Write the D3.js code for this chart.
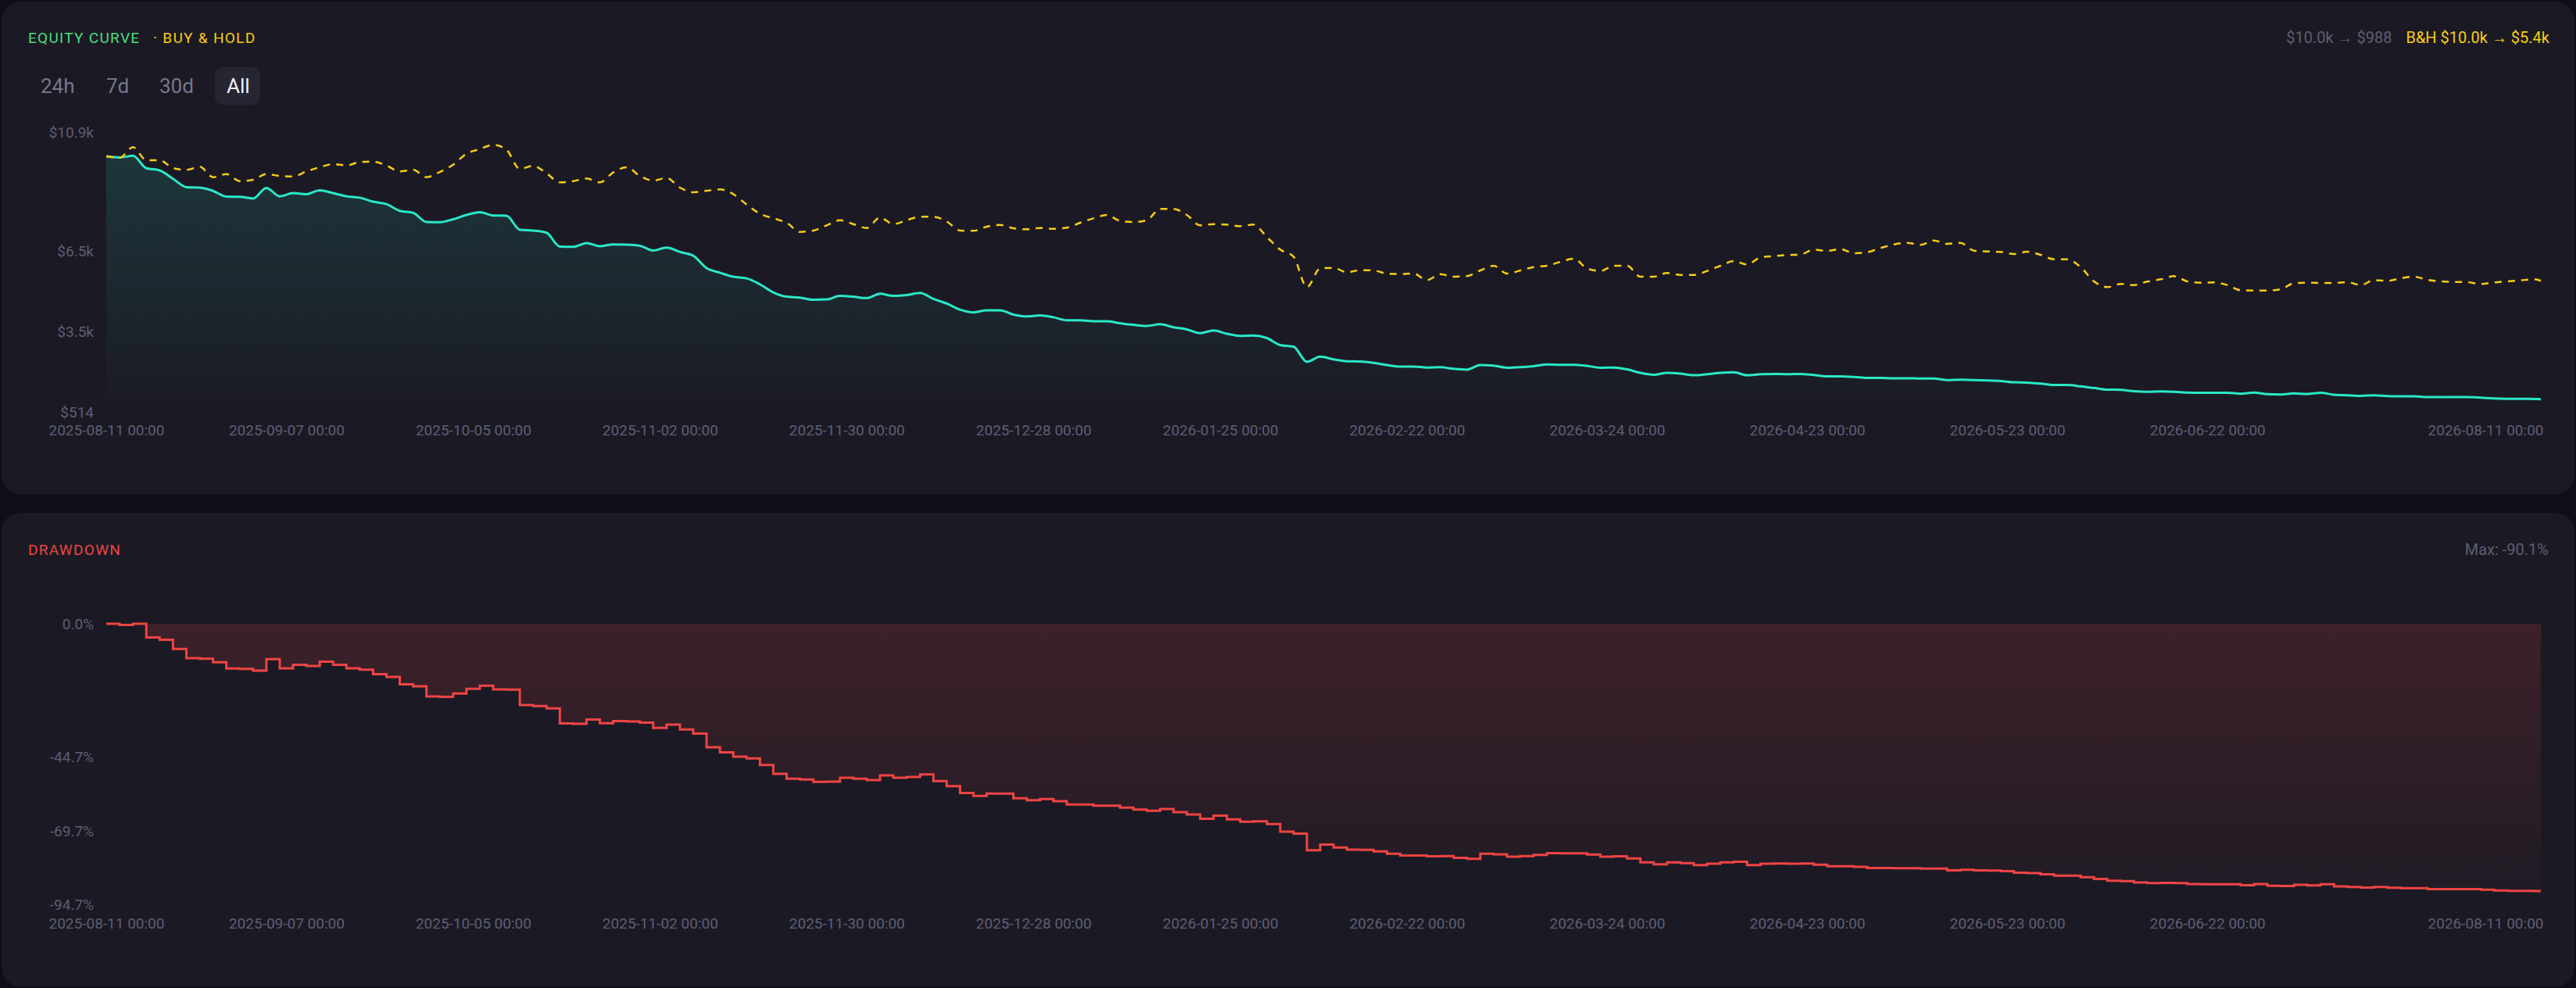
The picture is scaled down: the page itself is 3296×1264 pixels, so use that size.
<!DOCTYPE html>
<html>
<head>
<meta charset="utf-8">
<script src="https://cdn.jsdelivr.net/npm/d3@7"></script>
<style>
  html, body { margin: 0; padding: 0; background: #0f0e17; }
  svg { display: block; font-family: Roboto, "Liberation Sans", sans-serif; }
</style>
</head>
<body>
<script>
// datas (um ponto a cada 2 dias + ultimo dia)
var startDay = "2025-08-11";
var endDay = "2026-08-11";

var equity = [
  10000, 9960, 10020, 9559, 9479, 9168, 8858, 8838, 8717, 8507,
  8497, 8437, 8828, 8517, 8637, 8597, 8737, 8637, 8517, 8467,
  8317, 8226, 7976, 7906, 7565, 7555, 7665, 7826, 7926, 7806,
  7796, 7275, 7244, 7164, 6653, 6643, 6784, 6663, 6733, 6723,
  6683, 6503, 6613, 6453, 6313, 5852, 5681, 5531, 5471, 5250,
  4950, 4790, 4759, 4679, 4689, 4820, 4790, 4739, 4900, 4820,
  4850, 4930, 4709, 4539, 4309, 4208, 4289, 4289, 4128, 4058,
  4098, 4028, 3918, 3918, 3878, 3878, 3808, 3747, 3707, 3768,
  3657, 3577, 3437, 3537, 3417, 3337, 3347, 3256, 2996, 2936,
  2375, 2565, 2465, 2395, 2385, 2335, 2254, 2194, 2194, 2164,
  2174, 2114, 2084, 2254, 2234, 2154, 2174, 2214, 2275, 2265,
  2265, 2224, 2154, 2164, 2094, 1964, 1894, 1964, 1934, 1874,
  1914, 1964, 1984, 1874, 1914, 1924, 1914, 1924, 1884, 1834,
  1834, 1814, 1774, 1774, 1764, 1764, 1753, 1753, 1693, 1713,
  1693, 1683, 1663, 1613, 1603, 1563, 1513, 1513, 1463, 1403,
  1343, 1333, 1283, 1263, 1273, 1263, 1232, 1222, 1222, 1222,
  1192, 1232, 1172, 1162, 1202, 1182, 1222, 1152, 1132, 1112,
  1132, 1102, 1092, 1092, 1062, 1062, 1062, 1062, 1042, 1012,
  1002, 1002, 992, 988
];

var buyHold = [
  10000, 9952, 10339, 9856, 9856, 9566, 9498, 9614, 9227, 9343,
  9082, 9130, 9343, 9275, 9256, 9440, 9594, 9710, 9662, 9788,
  9807, 9662, 9440, 9498, 9227, 9420, 9691, 10097, 10271, 10426,
  10242, 9537, 9643, 9372, 9034, 9082, 9179, 9034, 9401, 9594,
  9275, 9101, 9198, 8840, 8666, 8724, 8773, 8599, 8212, 7873,
  7699, 7535, 7196, 7245, 7438, 7632, 7486, 7341, 7728, 7486,
  7632, 7757, 7757, 7583, 7245, 7235, 7390, 7457, 7332, 7293,
  7341, 7312, 7351, 7535, 7699, 7825, 7602, 7564, 7631, 8047,
  8047, 7825, 7438, 7486, 7467, 7409, 7467, 7003, 6539, 6278,
  5146, 5843, 5862, 5697, 5775, 5765, 5649, 5630, 5649, 5407,
  5630, 5533, 5553, 5765, 5939, 5649, 5765, 5891, 5939, 6084,
  6200, 5843, 5746, 5939, 5939, 5533, 5533, 5669, 5601, 5601,
  5746, 5939, 6110, 5988, 6249, 6297, 6336, 6355, 6539, 6490,
  6558, 6403, 6442, 6597, 6732, 6790, 6713, 6877, 6752, 6790,
  6500, 6471, 6452, 6374, 6461, 6345, 6181, 6181, 5891, 5359,
  5146, 5262, 5224, 5349, 5436, 5552, 5359, 5311, 5320, 5224,
  5030, 5021, 5021, 5069, 5291, 5311, 5301, 5301, 5330, 5224,
  5407, 5378, 5475, 5533, 5417, 5359, 5340, 5330, 5262, 5320,
  5359, 5398, 5436, 5380
];

var drawdown = [
  0, -0.4, 0, -4.6, -5.4, -8.5, -11.6, -11.8, -13.0, -15.1,
  -15.2, -15.8, -11.9, -15.0, -13.8, -14.2, -12.8, -13.8, -15.0, -15.5,
  -17.0, -17.9, -20.4, -21.1, -24.5, -24.6, -23.5, -21.9, -20.9, -22.1,
  -22.2, -27.4, -27.7, -28.5, -33.6, -33.7, -32.3, -33.5, -32.8, -32.9,
  -33.3, -35.1, -34.0, -35.6, -37.0, -41.6, -43.3, -44.8, -45.4, -47.6,
  -50.6, -52.2, -52.5, -53.3, -53.2, -51.9, -52.2, -52.7, -51.1, -51.9,
  -51.6, -50.8, -53.0, -54.7, -57.0, -58.0, -57.2, -57.2, -58.8, -59.5,
  -59.1, -59.8, -60.9, -60.9, -61.3, -61.3, -62.0, -62.6, -63.0, -62.4,
  -63.5, -64.3, -65.7, -64.7, -65.9, -66.7, -66.6, -67.5, -70.1, -70.7,
  -76.3, -74.4, -75.4, -76.1, -76.2, -76.7, -77.5, -78.1, -78.1, -78.4,
  -78.3, -78.9, -79.2, -77.5, -77.7, -78.5, -78.3, -77.9, -77.3, -77.4,
  -77.4, -77.8, -78.5, -78.4, -79.1, -80.4, -81.1, -80.4, -80.7, -81.3,
  -80.9, -80.4, -80.2, -81.3, -80.9, -80.8, -80.9, -80.8, -81.2, -81.7,
  -81.7, -81.9, -82.3, -82.3, -82.4, -82.4, -82.5, -82.5, -83.1, -82.9,
  -83.1, -83.2, -83.4, -83.9, -84.0, -84.4, -84.9, -84.9, -85.4, -86.0,
  -86.6, -86.7, -87.2, -87.4, -87.3, -87.4, -87.7, -87.8, -87.8, -87.8,
  -88.1, -87.7, -88.3, -88.4, -88.0, -88.2, -87.8, -88.5, -88.7, -88.9,
  -88.7, -89.0, -89.1, -89.1, -89.4, -89.4, -89.4, -89.4, -89.6, -89.9,
  -90.0, -90.0, -90.1, -90.1
];

var xTicks = ["2025-08-11", "2025-09-07", "2025-10-05", "2025-11-02", "2025-11-30",
  "2025-12-28", "2026-01-25", "2026-02-22", "2026-03-24", "2026-04-23",
  "2026-05-23", "2026-06-22", "2026-08-11"];
var equityTicks = [10900, 6500, 3500, 514];
var ddTicks = [0, -44.7, -69.7, -94.7];
var ranges = ["24h", "7d", "30d", "All"];

var w = 3296;
var h = 1264;
var left = 136, right = 3251;

var parse = d3.utcParse("%Y-%m-%d");
var dates = d3.utcDay.range(parse(startDay), parse(endDay), 2);
dates.push(parse(endDay));

function money(v) {
  return v >= 1000 ? "$" + (v / 1000).toFixed(1) + "k" : "$" + Math.round(v);
}
var fmtDate = d3.utcFormat("%Y-%m-%d %H:%M");

var svg = d3.select("body").append("svg").attr("width", w).attr("height", h);
var defs = svg.append("defs");

// paineis
svg.append("rect").attr("x", 2).attr("y", 2).attr("width", 3292).attr("height", 630)
  .attr("rx", 24).attr("fill", "#1b1a24");
svg.append("rect").attr("x", 2).attr("y", 656).attr("width", 3292).attr("height", 606)
  .attr("rx", 24).attr("fill", "#1b1a24");

//escalas
var xScale = d3.scaleUtc()
  .domain([parse(startDay), parse(endDay)])
  .range([left, right]);

var yEq = d3.scaleLinear()
  .domain([514, 10900])
  .range([527, 169]);

var yDd = d3.scaleLinear()
  .domain([-94.7, 0])
  .range([1157.5, 798]);

// gradientes
var g1 = defs.append("linearGradient").attr("id", "eqFill")
  .attr("gradientUnits", "userSpaceOnUse")
  .attr("x1", 0).attr("y1", 169).attr("x2", 0).attr("y2", 527);
g1.append("stop").attr("offset", 0).attr("stop-color", "#2ae8c8").attr("stop-opacity", 0.15);
g1.append("stop").attr("offset", 1).attr("stop-color", "#2ae8c8").attr("stop-opacity", 0.0);

var g2 = defs.append("linearGradient").attr("id", "ddFill")
  .attr("gradientUnits", "userSpaceOnUse")
  .attr("x1", 0).attr("y1", 798).attr("x2", 0).attr("y2", 1157);
g2.append("stop").attr("offset", 0).attr("stop-color", "#ef4444").attr("stop-opacity", 0.16);
g2.append("stop").attr("offset", 1).attr("stop-color", "#ef4444").attr("stop-opacity", 0.02);

// titulo do grafico de cima
svg.append("text").text("EQUITY CURVE")
  .attr("x", 36).attr("y", 55)
  .attr("font-size", "19px").attr("letter-spacing", "1.3px")
  .attr("fill", "#4ade80");
svg.append("text").text("\u00b7 BUY & HOLD")
  .attr("x", 196).attr("y", 55)
  .attr("font-size", "19px").attr("letter-spacing", "1.3px")
  .attr("fill", "#facc15");

var bhText = svg.append("text")
  .text("B&H " + money(buyHold[0]) + " \u2192 " + money(buyHold[buyHold.length - 1]))
  .attr("x", 3262).attr("y", 55)
  .attr("text-anchor", "end")
  .attr("font-size", "20px")
  .attr("fill", "#facc15");
var bhW = bhText.node().getComputedTextLength();

svg.append("text")
  .text(money(equity[0]) + " \u2192 " + money(equity[equity.length - 1]))
  .attr("x", 3262 - bhW - 18).attr("y", 55)
  .attr("text-anchor", "end")
  .attr("font-size", "20px")
  .attr("fill", "#5f5d73");

// botoes
var btnX = [52, 136, 204, 290];
svg.append("rect").attr("x", 275).attr("y", 86).attr("width", 58).attr("height", 48)
  .attr("rx", 10).attr("fill", "#262532");
svg.selectAll("text.btn")
  .data(ranges)
  .enter()
  .append("text")
  .attr("class", "btn")
  .text(function(d) { return d; })
  .attr("x", function(d, i) { return btnX[i]; })
  .attr("y", 119)
  .attr("font-size", "26px")
  .attr("fill", function(d) { return d == "All" ? "#f0f0f5" : "#78768c"; });

// area + linhas
var eqArea = d3.area()
  .x(function(d, i) { return xScale(dates[i]); })
  .y0(527)
  .y1(function(d) { return yEq(d); })
  .curve(d3.curveMonotoneX);

var eqLine = d3.line()
  .x(function(d, i) { return xScale(dates[i]); })
  .y(function(d) { return yEq(d); })
  .curve(d3.curveMonotoneX);

svg.append("path").datum(equity).attr("d", eqArea).attr("fill", "url(#eqFill)");
svg.append("path").datum(equity).attr("d", eqLine)
  .attr("fill", "none").attr("stroke", "#2ae8c8").attr("stroke-width", 3);
svg.append("path").datum(buyHold).attr("d", eqLine)
  .attr("fill", "none").attr("stroke", "#facc15").attr("stroke-width", 2.5)
  .attr("stroke-dasharray", "9,8");

//axes
function styleAxis(g) {
  g.select(".domain").remove();
  g.selectAll("text")
    .attr("fill", "#5f5d75")
    .attr("font-size", "19px")
    .attr("font-family", "Roboto, 'Liberation Sans', sans-serif");
}

var xAxis = d3.axisBottom(xScale)
  .tickValues(xTicks.map(parse))
  .tickFormat(fmtDate)
  .tickSize(0)
  .tickPadding(17);

var xg1 = svg.append("g").attr("transform", "translate(0,527)").call(xAxis).call(styleAxis);
var xg2 = svg.append("g").attr("transform", "translate(0,1157.5)").call(xAxis).call(styleAxis);
[xg1, xg2].forEach(function(g) {
  g.selectAll(".tick").filter(function(d, i) { return i == xTicks.length - 1; })
    .select("text").attr("text-anchor", "end").attr("x", 3);
});

var yAxis1 = d3.axisLeft(yEq)
  .tickValues(equityTicks)
  .tickFormat(money)
  .tickSize(0)
  .tickPadding(16);
svg.append("g").attr("transform", "translate(" + left + ",0)").call(yAxis1).call(styleAxis)
  .selectAll("text").attr("dy", "0.34em");

// drawdown
svg.append("text").text("DRAWDOWN")
  .attr("x", 36).attr("y", 710)
  .attr("font-size", "19px").attr("letter-spacing", "1.3px")
  .attr("fill", "#ef4444");

svg.append("text").text("Max: " + d3.min(drawdown).toFixed(1) + "%")
  .attr("x", 3261).attr("y", 710)
  .attr("text-anchor", "end")
  .attr("font-size", "20px")
  .attr("fill", "#5f5d73");

var ddArea = d3.area()
  .x(function(d, i) { return xScale(dates[i]); })
  .y0(yDd(0))
  .y1(function(d) { return yDd(d); })
  .curve(d3.curveStepAfter);

var ddLine = d3.line()
  .x(function(d, i) { return xScale(dates[i]); })
  .y(function(d) { return yDd(d); })
  .curve(d3.curveStepAfter);

svg.append("path").datum(drawdown).attr("d", ddArea).attr("fill", "url(#ddFill)");
svg.append("path").datum(drawdown).attr("d", ddLine)
  .attr("fill", "none").attr("stroke", "#ef4444").attr("stroke-width", 3);

var yAxis2 = d3.axisLeft(yDd)
  .tickValues(ddTicks)
  .tickFormat(function(d) { return d.toFixed(1) + "%"; })
  .tickSize(0)
  .tickPadding(16);
svg.append("g").attr("transform", "translate(" + left + ",0)").call(yAxis2).call(styleAxis)
  .selectAll("text").attr("dy", "0.34em");
</script>
</body>
</html>
